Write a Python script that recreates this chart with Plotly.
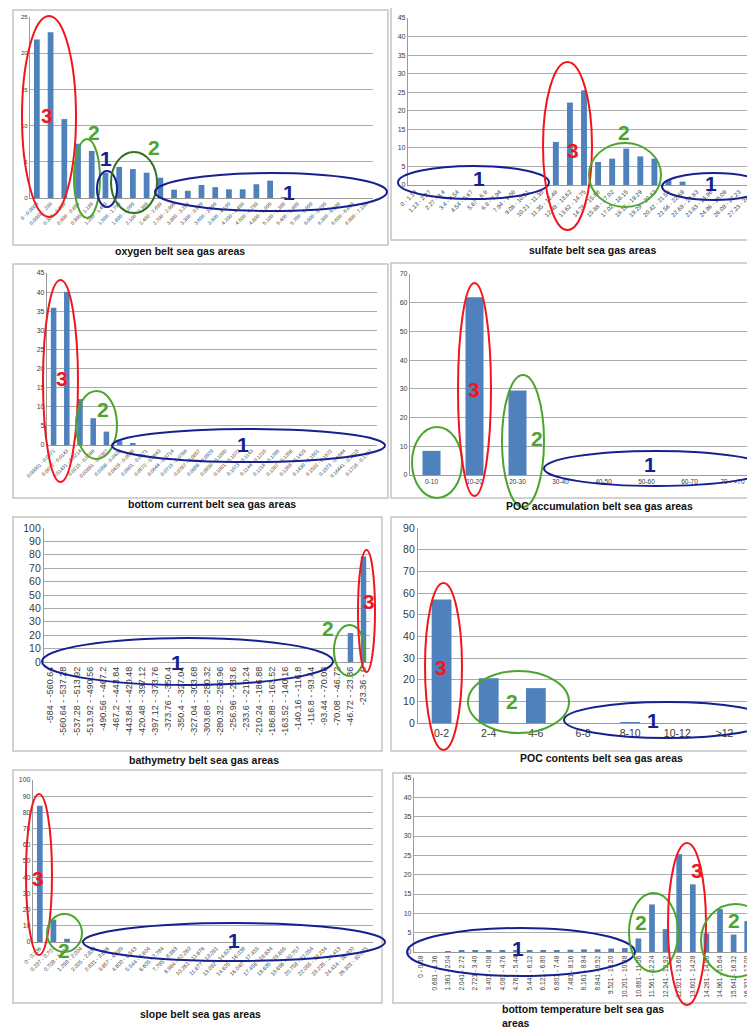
import plotly.graph_objects as go

W, H = 755, 1030

# ---------------- data ----------------
oxygen_cats = ["0 - 0.0000", "0.0001 - .299", "0.300 - 0.599", "0.600 - 0.899", "0.900 - 1.199",
               "1.200 - 1.499", "1.500 - 1.799", "1.800 - 2.099", "2.100 - 2.399", "2.400 - 2.699",
               "2.700 - 2.999", "3.000 - 3.299", "3.300 - 3.599", "3.600 - 3.899", "3.900 - 4.199",
               "4.200 - 4.499", "4.500 - 4.799", "4.800 - 5.099", "5.100 - 5.399", "5.400 - 5.699",
               "5.700 - 5.999", "6.000 - 6.299", "6.300 - 6.599", "6.600 - 6.899", "6.900 - 7.199"]
oxygen_vals = [21.9, 22.9, 10.9, 7.5, 6.5, 3.5, 4.3, 4.0, 3.5, 2.8, 1.15, 1.0, 1.8, 1.5, 1.2,
               1.2, 1.9, 2.4, 0.1, 0, 0, 0, 0, 0, 0]

sulfate_cats = ["0 - 1.13", "1.13 - 2.27", "2.27 - 3.4", "3.4 - 4.54", "4.54 - 5.67", "5.67 - 6.8",
                "6.8 - 7.94", "7.94 - 9.08", "9.08 - 10.21", "10.21 - 11.35", "11.35 - 12.48",
                "12.48 - 13.62", "13.62 - 14.75", "14.75 - 15.88", "15.88 - 17.02", "17.02 - 18.15",
                "18.15 - 19.29", "19.29 - 20.42", "20.42 - 21.56", "21.56 - 22.69", "22.69 - 23.83",
                "23.83 - 24.96", "24.96 - 26.09", "26.09 - 27.23", "27.23 - 28.37"]
sulfate_vals = [0, 0, 0, 0, 0, 0, 0, 0, 0, 0, 11.6, 22.2, 25.5, 6.2, 7.1, 9.8, 7.7, 7.1, 1.3, 0.9,
                0, 0, 0, 0, 0]

current_cats = ["0.00001 - 0.0071", "0.0072 - 0.0143", "0.01431 - 0.0214", "0.0215 - 0.0286",
                "0.02861 - 0.0357", "0.0358 - 0.0428", "0.0429 - 0.0500", "0.0501 - 0.0571",
                "0.0572 - 0.0643", "0.0644 - 0.0714", "0.0715 - 0.0786", "0.0787 - 0.0857",
                "0.0858 - 0.0929", "0.0930 - 0.1000", "0.1001 - 0.1072", "0.1073 - 0.1143",
                "0.1144 - 0.1215", "0.1216 - 0.1286", "0.1287 - 0.1358", "0.1359 - 0.1429",
                "0.1430 - 0.1501", "0.1502 - 0.1572", "0.1573 - 0.1644", "0.16441 - 0.1715",
                "0.1716 - 0.1787"]
current_vals = [35.9, 40.1, 12.0, 7.0, 3.5, 1.0, 0.4, 0, 0, 0, 0, 0, 0, 0, 0, 0, 0, 0, 0, 0,
                0, 0, 0, 0, 0]

pocacc_cats = ["0-10", "10-20", "20-30", "30-40", "40-50", "50-60", "60-70", "70 - >70"]
pocacc_vals = [8.4, 61.9, 29.4, 0, 0, 0, 0, 0]

bathy_cats = ["-584 - -560.64", "-560.64 - -537.28", "-537.28 - -513.92", "-513.92 - -490.56",
              "-490.56 - -467.2", "-467.2 - -443.84", "-443.84 - -420.48", "-420.48 - -397.12",
              "-397.12 - -373.76", "-373.76 - -350.4", "-350.4 - -327.04", "-327.04 - -303.68",
              "-303.68 - -280.32", "-280.32 - -256.96", "-256.96 - -233.6", "-233.6 - -210.24",
              "-210.24 - -186.88", "-186.88 - -163.52", "-163.52 - -140.16", "-140.16 - -116.8",
              "-116.8 - -93.44", "-93.44 - -70.08", "-70.08 - -46.72", "-46.72 - -23.36",
              "-23.36 - 0"]
bathy_vals = [0] * 23 + [21.6, 78.8]

poccont_cats = ["0-2", "2-4", "4-6", "6-8", "8-10", "10-12", ">12"]
poccont_vals = [57, 20.7, 16.1, 0, 0.4, 0, 0]

slope_cats = ["0 - 0.236", "0.237 - 0.707", "0.708 - 1.297", "1.298 - 2.004", "2.005 - 2.830",
              "2.831 - 3.656", "3.657 - 4.599", "4.600 - 5.543", "5.544 - 6.604", "6.605 - 7.784",
              "7.785 - 8.963", "8.964 - 10.260", "10.261 - 11.676", "11.677 - 13.091",
              "13.092 - 14.624", "14.625 - 16.039", "16.040 - 17.455", "17.456 - 18.634",
              "18.635 - 19.695", "19.696 - 20.757", "20.758 - 22.054", "22.055 - 23.234",
              "23.235 - 24.413", "24.414 - 26.300", "26.301 - 30.075"]
slope_vals = [84.1, 13.8, 2.0] + [0] * 22

temp_cats = ["0 - 0.68", "0.681 - 1.36", "1.361 - 2.04", "2.041 - 2.72", "2.721 - 3.40",
             "3.401 - 4.08", "4.081 - 4.76", "4.761 - 5.44", "5.441 - 6.12", "6.121 - 6.80",
             "6.801 - 7.48", "7.481 - 8.16", "8.161 - 8.84", "8.841 - 9.52", "9.521 - 10.20",
             "10.201 - 10.88", "10.881 - 11.56", "11.561 - 12.24", "12.241 - 12.92",
             "12.921 - 13.60", "13.601 - 14.28", "14.281 - 14.96", "14.961 - 15.64",
             "15.641 - 16.32", "16.321 - 17.00"]
temp_vals = [0, 0, 0.1, 0.3, 0.4, 0.3, 0.3, 0.4, 0.3, 0.4, 0.5, 0.6, 0.7, 0.7, 0.9, 1.0,
             3.5, 12.3, 5.9, 25.3, 17.5, 4.8, 11.1, 4.5, 8.0]

titles = ["oxygen belt sea gas areas", "sulfate belt sea gas areas",
          "bottom current belt sea gas areas", "POC accumulation belt sea gas areas",
          "bathymetry belt sea gas areas", "POC contents belt sea gas areas",
          "slope belt sea gas areas", "bottom temperature belt sea gas<br>areas"]

# ---------------- styling / layout ----------------
FONT = "Liberation Sans, Arial, sans-serif"
BAR = "#4f81bd"
GRID = "#ababab"
RED = "#f2161c"
GREEN = "#4ba52c"
DKGREEN = "#35701f"
BLUE = "#16208f"
OFF = 8  # page body margin


def px(x):
    return (x - OFF) / W


def py(y):
    return 1 - (y - OFF) / H


panels = [
    # cats, vals, (left, right, top, bottom) px, ymax, dtick, tickangle, xfont, yfont
    (oxygen_cats, oxygen_vals, (30, 373, 17, 198), 25, 5, -45, 5, 6),
    (sulfate_cats, sulfate_vals, (408, 760, 18, 185), 45, 5, -45, 6, 7),
    (current_cats, current_vals, (47, 377, 273, 445), 45, 5, -45, 5, 7),
    (pocacc_cats, pocacc_vals, (410, 754, 274, 475), 70, 10, 0, 6.5, 7),
    (bathy_cats, bathy_vals, (44, 370, 528, 662), 100, 10, -90, 9, 10.5),
    (poccont_cats, poccont_vals, (418, 748, 528, 723), 90, 10, 0, 10.5, 10.5),
    (slope_cats, slope_vals, (33, 373, 780, 942), 100, 10, -45, 5.5, 7),
    (temp_cats, temp_vals, (414, 754, 778, 952), 45, 5, -90, 6.5, 7),
]

boxes = [(13, 388, 10, 245), (391, 758, 6, 240), (13, 388, 264, 498), (391, 758, 263, 498),
         (13, 382, 517, 751), (391, 758, 517, 751), (13, 382, 770, 1003), (393, 758, 773, 1003)]
title_pos = [(180, 251, "center"), (592, 250, "center"), (212, 504, "center"),
             (599, 506, "center"), (204, 760, "center"), (601, 758, "center"),
             (200, 1014, "center"), (500, 1016, "left")]

# ellipses: (x0, x1, y0, y1, color) in px, and labels (text, x, y, color)
ellipses = [
    (22, 76, 16, 217, RED), (74, 100, 139, 218, GREEN), (97, 117, 171, 207, BLUE),
    (111, 157, 152, 213, DKGREEN), (155, 387, 173, 211, BLUE),
    (398, 549, 166, 199, BLUE), (543, 592, 62, 230, RED), (589, 661, 143, 207, GREEN),
    (662, 765, 173, 200, BLUE),
    (43, 78, 280, 482, RED), (76, 117, 391, 459, GREEN), (112, 385, 429, 462, BLUE),
    (412, 462, 427, 498, GREEN), (458, 491, 283, 496, RED), (502, 544, 375, 507, GREEN),
    (544, 768, 451, 486, BLUE),
    (42, 333, 638, 685, BLUE), (334, 365, 625, 676, GREEN), (358, 375, 550, 672, RED),
    (425, 462, 583, 750, RED), (468, 569, 671, 733, GREEN), (564, 770, 702, 738, BLUE),
    (26, 52, 794, 955, RED), (47, 82, 914, 952, GREEN), (83, 385, 923, 961, BLUE),
    (407, 635, 928, 976, BLUE), (629, 678, 893, 972, GREEN), (668, 706, 843, 1005, RED),
    (701, 770, 904, 977, GREEN),
]
numbers = [
    ("3", 47, 115, RED), ("2", 94, 133, GREEN), ("1", 106, 159, BLUE), ("2", 154, 147, GREEN),
    ("1", 289, 192, BLUE),
    ("1", 479, 179, BLUE), ("3", 573, 150, RED), ("2", 624, 133, GREEN), ("1", 711, 183, BLUE),
    ("3", 62, 378, RED), ("2", 103, 409, GREEN), ("1", 243, 444, BLUE),
    ("3", 474, 390, RED), ("2", 537, 438, GREEN), ("1", 650, 464, BLUE),
    ("1", 177, 662, BLUE), ("2", 328, 628, GREEN), ("3", 369, 601, RED),
    ("3", 441, 667, RED), ("2", 512, 701, GREEN), ("1", 653, 720, BLUE),
    ("3", 38, 878, RED), ("2", 64, 950, GREEN), ("1", 234, 940, BLUE),
    ("1", 518, 948, BLUE), ("2", 641, 922, GREEN), ("3", 697, 870, RED), ("2", 734, 920, GREEN),
]

fig = go.Figure()
layout = dict(
    width=W, height=H, margin=dict(l=0, r=0, t=0, b=0, pad=0, autoexpand=False),
    paper_bgcolor="white", plot_bgcolor="white", showlegend=False,
    bargap=0.58, font=dict(family=FONT, color="#404040"),
)

for i, (cats, vals, (l, r, t, b), ymax, dt, ang, xf, yf) in enumerate(panels, start=1):
    sx = "" if i == 1 else str(i)
    fig.add_trace(go.Bar(x=cats, y=vals, marker=dict(color=BAR, line=dict(width=0)),
                         xaxis="x" + sx, yaxis="y" + sx, showlegend=False))
    layout["xaxis" + sx] = dict(
        domain=[max(px(l), 0.0), min(px(r), 1.0)], anchor="y" + sx, type="category",
        range=[-0.5, len(cats) - 0.5], tickmode="array", tickvals=cats, ticktext=cats,
        tickangle=ang, tickfont=dict(size=xf, color="#3a3a3a", family=FONT),
        showgrid=False, showline=True, linecolor="#9a9a9a", linewidth=1.2, ticks="",
        zeroline=False, fixedrange=True, automargin=False,
    )
    layout["yaxis" + sx] = dict(
        domain=[py(b), min(py(t), 1.0)], anchor="x" + sx, range=[0, ymax], dtick=dt, tick0=0,
        tickfont=dict(size=yf, color="#3a3a3a", family=FONT),
        showgrid=True, gridcolor=GRID, gridwidth=1.3, showline=True, linecolor="#9a9a9a",
        linewidth=1.2, ticks="", zeroline=False, fixedrange=True, automargin=False,
    )

shapes = []
for (x0, x1, y0, y1) in boxes:
    shapes.append(dict(type="rect", xref="paper", yref="paper", x0=px(x0), x1=px(x1),
                       y0=py(y1), y1=py(y0), line=dict(color="#c4c4c4", width=1.5), layer="below"))
for (x0, x1, y0, y1, c) in ellipses:
    shapes.append(dict(type="circle", xref="paper", yref="paper", x0=px(x0), x1=px(x1),
                       y0=py(y1), y1=py(y0), line=dict(color=c, width=2)))

annotations = []
for text, (x, y, al) in zip(titles, title_pos):
    annotations.append(dict(text="<b>" + text + "</b>", x=px(x), y=py(y), xref="paper", yref="paper",
                            xanchor=al, yanchor="middle", align="left", showarrow=False,
                            font=dict(size=10.5, color="#111111", family=FONT)))
for text, x, y, c in numbers:
    annotations.append(dict(text="<b>" + text + "</b>", x=px(x), y=py(y), xref="paper", yref="paper",
                            xanchor="center", yanchor="middle", showarrow=False,
                            font=dict(size=21, color=c, family=FONT)))

layout["shapes"] = shapes
layout["annotations"] = annotations
fig.update_layout(**layout)
fig.write_html("out.html")
